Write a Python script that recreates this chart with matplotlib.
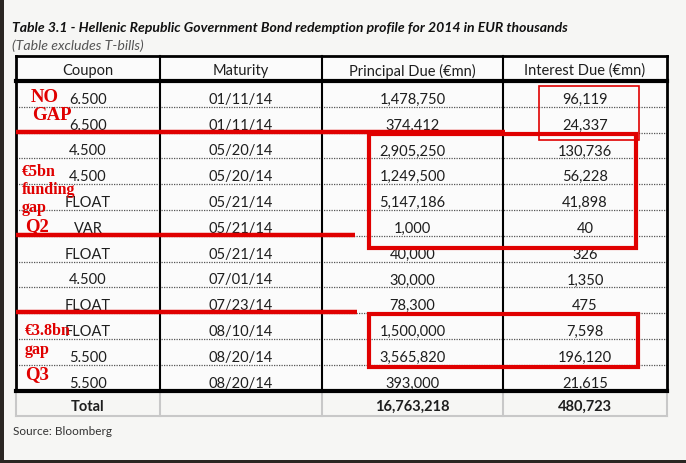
import matplotlib
matplotlib.use('Agg')
from matplotlib import pyplot as plt
from matplotlib.patches import Rectangle

# table data
headers = ['Coupon', 'Maturity', 'Principal Due (€mn)', 'Interest Due (€mn)']
coupons = ['6.500', '6.500', '4.500', '4.500', 'FLOAT', 'VAR', 'FLOAT', '4.500', 'FLOAT', 'FLOAT', '5.500', '5.500']
maturities = ['01/11/14', '01/11/14', '05/20/14', '05/20/14', '05/21/14', '05/21/14',
              '05/21/14', '07/01/14', '07/23/14', '08/10/14', '08/20/14', '08/20/14']
principal = [1478750, 374412, 2905250, 1249500, 5147186, 1000, 40000, 30000, 78300, 1500000, 3565820, 393000]
interest = [96119, 24337, 130736, 56228, 41898, 40, 326, 1350, 475, 7598, 196120, 21615]
totals = ['Total', '', '16,763,218', '480,723']

# hand-drawn annotations
notes = [['NO', 'GAP'], ['€5bn', 'funding', 'gap', 'Q2'], ['€3.8bn', 'gap', 'Q3']]
split_rows = [2, 6, 9]

# layout (pixels)
col_edges = [16, 160, 322, 503, 667]
top = 57
head_bot = 82
row_h = 25.8
n = len(coupons)
bot = head_bot + n * row_h

fig = plt.figure(figsize=(6.86, 4.64), dpi=100, facecolor='#f6f6f4')
ax = fig.add_axes([0, 0, 1, 1])
ax.set_xlim(0, 686)
ax.set_ylim(464, 0)
ax.axis('off')

font = 'Lato'
tc = '#1e1e1e'
fs = 10.5

ax.text(12, 28, 'Table 3.1 - Hellenic Republic Government Bond redemption profile for 2014 in EUR thousands',
        fontsize=10.1, fontweight='bold', style='italic', family=font, color='#111', va='center')
ax.text(12, 46, '(Table excludes T-bills)', fontsize=10.2, style='italic', family=font, color='#555', va='center')

# table body background
ax.add_patch(Rectangle((col_edges[0], top), col_edges[-1] - col_edges[0], bot - top, facecolor='#fbfbfb',
                       edgecolor='none', zorder=0))

def row_y(i):
    return head_bot + i * row_h

centers = [(col_edges[k] + col_edges[k + 1]) / 2 for k in range(4)]

for k, h in enumerate(headers):
    ax.text(centers[k], 71, h, ha='center', va='center', fontsize=fs, family=font, color=tc)

for i in range(n):
    y = row_y(i + 1) - 4
    vals = [coupons[i], maturities[i], format(principal[i], ','), format(interest[i], ',')]
    for k, v in enumerate(vals):
        ax.text(centers[k], y, v, ha='center', va='baseline', fontsize=fs, family=font, color=tc)
    if i < n - 1:
        ax.plot([col_edges[0], col_edges[-1]], [row_y(i + 1)] * 2, color='#555', lw=0.9,
                linestyle=(0, (1, 1)), zorder=1)

# total row
tot_bot = bot + 25
for k, v in enumerate(totals):
    ax.text(centers[k], tot_bot - 6, v, ha='center', va='baseline', fontsize=fs, fontweight='bold',
            family=font, color=tc)
for x in col_edges:
    ax.plot([x, x], [bot, tot_bot], color='#c8c8c8', lw=1.5, zorder=1)
ax.plot([col_edges[0], col_edges[-1]], [tot_bot, tot_bot], color='#c8c8c8', lw=1.5, zorder=1)

# black grid
for x in col_edges:
    ax.plot([x, x], [top, bot], color='k', lw=1.5 if x in col_edges[1:-1] else 2, zorder=2)
ax.plot([col_edges[0], col_edges[-1]], [top, top], color='k', lw=2, zorder=2)
ax.plot([col_edges[0], col_edges[-1]], [head_bot, head_bot], color='k', lw=3, zorder=2)
ax.plot([col_edges[0], col_edges[-1]], [bot, bot], color='k', lw=3, zorder=2)

# red annotations
red = '#e00000'
line_ends = [505, 355, 357]
for r, xe in zip(split_rows, line_ends):
    ax.plot([col_edges[0], xe], [row_y(r) - 1] * 2, color=red, lw=3.2, zorder=4, solid_capstyle='butt')

boxes = [((539, row_y(0) + 5), 100, 2.1 * row_h, 1.2),
         ((369, row_y(2) + 1.5), 267, 4.4 * row_h, 3),
         ((369, row_y(9) + 1), 269, 2.05 * row_h, 3)]
for xy, w, h, lw in boxes:
    ax.add_patch(Rectangle(xy, w, h, fill=False, edgecolor=red, lw=lw, zorder=4))

note_style = dict(family='Liberation Serif', fontweight='bold', color=red, va='center', zorder=5)
ax.text(31, 98, notes[0][0], fontsize=13.5, **note_style)
ax.text(32, 116, notes[0][1], fontsize=13.5, **note_style)
for j, s in enumerate(notes[1][:3]):
    ax.text(22, 172 + j * 18, s, fontsize=11.5, **note_style)
ax.text(25, 227, notes[1][3], fontsize=13.5, **note_style)
for j, s in enumerate(notes[2][:2]):
    ax.text(25, 331 + j * 19, s, fontsize=11.5, **note_style)
ax.text(25, 375, notes[2][2], fontsize=13.5, **note_style)

ax.text(13, 432, 'Source: Bloomberg', fontsize=8.5, family=font, color='#333', va='center')

# dark photo edges
ax.add_patch(Rectangle((0, 0), 4, 464, facecolor='#2a2622', edgecolor='none', zorder=6))
ax.add_patch(Rectangle((0, 461), 686, 3, facecolor='#2a2622', edgecolor='none', zorder=6))

fig.savefig('out.png', dpi=100, facecolor=fig.get_facecolor())
